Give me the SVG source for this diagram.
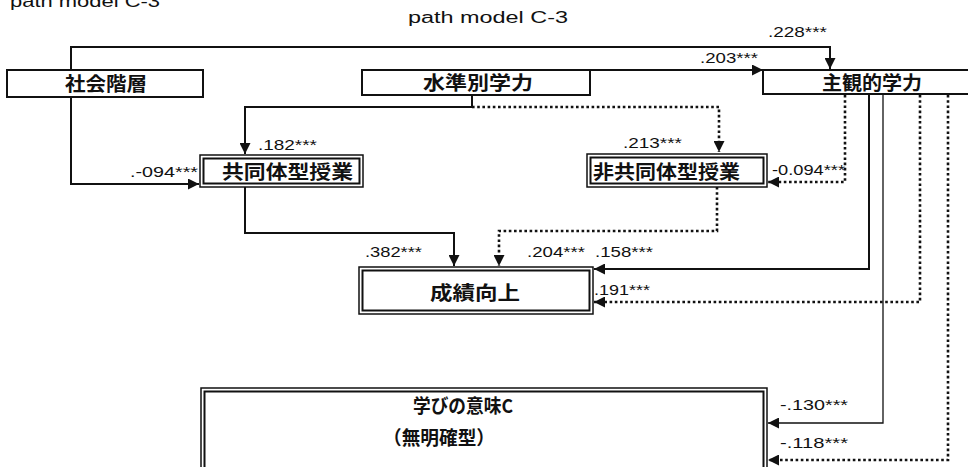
<svg xmlns="http://www.w3.org/2000/svg" width="968" height="467" viewBox="0 0 968 467">
<style>
.t{font-family:"Liberation Sans",Arial,sans-serif;font-size:16px;fill:#111}
.lb{font-family:"Liberation Sans",Arial,sans-serif;font-size:15px;fill:#111}
.jp{font-family:"Noto Sans CJK JP","Noto Sans CJK SC",sans-serif;font-size:19px;font-weight:bold;fill:#111}
.box{fill:#fff;stroke:#111;stroke-width:2}
.ob{fill:#fff;stroke:#111;stroke-width:1.5}
.ib{fill:none;stroke:#111;stroke-width:2}
.s{fill:none;stroke:#111;stroke-width:2;marker-end:url(#ah)}
.s1{fill:none;stroke:#111;stroke-width:1.3;marker-end:url(#ah)}
.d{fill:none;stroke:#111;stroke-width:2.6;stroke-dasharray:2.6 2.6;marker-end:url(#ah)}
</style>
<defs>
<marker id="ah" markerUnits="userSpaceOnUse" markerWidth="11" markerHeight="11" refX="11" refY="5.5" orient="auto" viewBox="0 0 11 11">
<path d="M0,0 L11,5.5 L0,11 z" fill="#111"/>
</marker>
</defs>
<rect width="968" height="467" fill="#fff"/>
<text class="t" x="10" y="7" textLength="150" lengthAdjust="spacingAndGlyphs">path model C-3</text>
<text class="t" x="408" y="23" textLength="160" lengthAdjust="spacingAndGlyphs">path model C-3</text>

<g id="connectors">
<path class="s" d="M71,70 V47 H830 V69"/>
<path class="s" d="M590,70 H763"/>
<path class="s" d="M472,95 V107 H245 V154"/>
<path class="d" d="M472,107 H719 V152"/>
<path class="s" d="M71,97 V184 H199"/>
<path class="d" d="M845,95 V182 H768"/>
<path class="s" d="M245,187 V233 H454 V266"/>
<path class="d" d="M717,187 V231 H499 V266"/>
<path class="s" d="M869,95 V269 H594"/>
<path class="d" d="M920,95 V302 H594"/>
<path class="s1" d="M883,95 V423 H768"/>
<path class="d" d="M948,95 V460 H768"/>
</g>

<g id="labels">
<text class="lb" x="768" y="37" textLength="59" lengthAdjust="spacingAndGlyphs">.228***</text>
<text class="lb" x="700" y="63" textLength="58" lengthAdjust="spacingAndGlyphs">.203***</text>
<text class="lb" x="258" y="150" textLength="59" lengthAdjust="spacingAndGlyphs">.182***</text>
<text class="lb" x="130" y="177" textLength="68" lengthAdjust="spacingAndGlyphs">.-094***</text>
<text class="lb" x="623" y="148" textLength="59" lengthAdjust="spacingAndGlyphs">.213***</text>
<text class="lb" x="772" y="175" textLength="73" lengthAdjust="spacingAndGlyphs">-0.094***</text>
<text class="lb" x="365" y="257" textLength="57" lengthAdjust="spacingAndGlyphs">.382***</text>
<text class="lb" x="527" y="257" textLength="58" lengthAdjust="spacingAndGlyphs">.204***</text>
<text class="lb" x="595" y="257" textLength="58" lengthAdjust="spacingAndGlyphs">.158***</text>
<text class="lb" x="594" y="295" textLength="56" lengthAdjust="spacingAndGlyphs">.191***</text>
<text class="lb" x="780" y="410" textLength="68" lengthAdjust="spacingAndGlyphs">-.130***</text>
<text class="lb" x="780" y="448" textLength="68" lengthAdjust="spacingAndGlyphs">-.118***</text>
</g>

<g id="n-shakai">
<rect class="box" x="7" y="70" width="196" height="27"/>
<text class="jp" x="65" y="91" textLength="82" lengthAdjust="spacingAndGlyphs">社会階層</text>
</g>
<g id="n-suijun">
<rect class="box" x="362" y="70" width="228" height="25"/>
<text class="jp" x="423" y="90" textLength="110" lengthAdjust="spacingAndGlyphs">水準別学力</text>
</g>
<g id="n-shukan">
<rect class="box" x="763" y="70" width="215" height="24"/>
<text class="jp" x="822" y="90" textLength="100" lengthAdjust="spacingAndGlyphs">主観的学力</text>
</g>
<g id="n-kyodo">
<rect class="ob" x="200" y="155" width="163" height="32"/>
<rect class="ib" x="203.5" y="158.5" width="156" height="25"/>
<text class="jp" x="222" y="179" textLength="131" lengthAdjust="spacingAndGlyphs">共同体型授業</text>
</g>
<g id="n-hikyodo">
<rect class="ob" x="587" y="154" width="180" height="33"/>
<rect class="ib" x="590.5" y="157.5" width="173" height="26"/>
<text class="jp" x="593" y="179" textLength="147" lengthAdjust="spacingAndGlyphs">非共同体型授業</text>
</g>
<g id="n-seiseki">
<rect class="ob" x="359" y="267" width="234" height="47"/>
<rect class="ib" x="362.5" y="270.5" width="227" height="40"/>
<text class="jp" x="430" y="300" textLength="90" lengthAdjust="spacingAndGlyphs">成績向上</text>
</g>
<g id="n-manabi">
<rect class="ob" x="201" y="388" width="566" height="90"/>
<rect class="ib" x="204.5" y="391.5" width="559" height="83"/>
<text class="jp" x="413" y="413" textLength="100" lengthAdjust="spacingAndGlyphs">学びの意味C</text>
<text class="jp" x="383" y="445" textLength="112" lengthAdjust="spacingAndGlyphs">（無明確型）</text>
</g>
</svg>
